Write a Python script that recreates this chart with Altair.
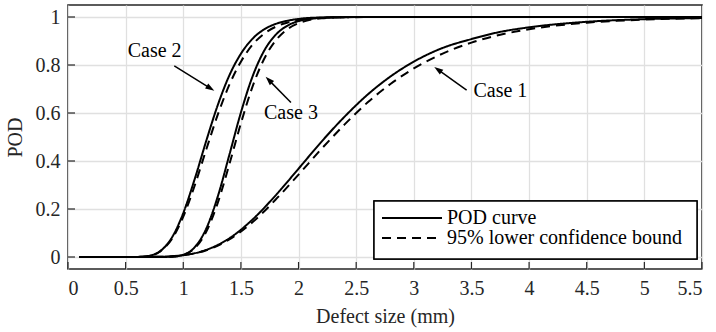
import altair as alt
import pandas as pd

# ---- data ----
CASE1_X = [0.1, 0.6, 0.8, 1.0, 1.2, 1.4, 1.6, 1.8, 2.0, 2.2, 2.4, 2.6, 2.8, 3.0, 3.25, 3.5, 3.75, 4.0, 4.5, 5.0, 5.5]
CASE1_POD = [0, 0, 0.001, 0.0074, 0.0297, 0.078, 0.1558, 0.256, 0.368, 0.481, 0.585, 0.677, 0.753, 0.814, 0.871, 0.908, 0.938, 0.957, 0.98, 0.991, 0.996]
CASE1_LCB = [0, 0, 0.001, 0.0073, 0.0283, 0.0731, 0.1448, 0.2383, 0.3435, 0.4509, 0.5526, 0.6445, 0.7218, 0.7856, 0.8475, 0.8933, 0.926, 0.949, 0.9763, 0.989, 0.995]

CASE2_X = [0.1, 0.5, 0.6, 0.7, 0.8, 0.9, 1.0, 1.1, 1.2, 1.3, 1.4, 1.5, 1.6, 1.7, 1.8, 1.9, 2.0, 2.2, 2.5, 3.0, 5.5]
CASE2_POD = [0, 0, 0.0004, 0.0046, 0.0246, 0.080, 0.183, 0.326, 0.485, 0.634, 0.757, 0.847, 0.909, 0.948, 0.971, 0.984, 0.992, 0.998, 0.9997, 1, 1]
CASE2_LCB = [0, 0, 0.0005, 0.0047, 0.0235, 0.0742, 0.168, 0.299, 0.449, 0.594, 0.718, 0.814, 0.884, 0.930, 0.959, 0.976, 0.987, 0.996, 0.9994, 1, 1]

CASE3_X = [0.1, 0.6, 0.8, 0.9, 1.0, 1.1, 1.2, 1.3, 1.4, 1.5, 1.6, 1.7, 1.8, 1.9, 2.0, 2.1, 2.2, 2.4, 2.6, 3.0, 5.5]
CASE3_POD = [0, 0, 0.0001, 0.0012, 0.0093, 0.041, 0.119, 0.253, 0.426, 0.602, 0.751, 0.858, 0.925, 0.963, 0.983, 0.9925, 0.997, 0.9995, 1, 1, 1]
CASE3_LCB = [0, 0, 0.0001, 0.0012, 0.0085, 0.0367, 0.1056, 0.2266, 0.387, 0.557, 0.709, 0.824, 0.901, 0.948, 0.974, 0.988, 0.9945, 0.999, 1, 1, 1]

SERIES_TYPES = ["POD curve", "95% lower confidence bound"]
X_TICKS = [0, 0.5, 1, 1.5, 2, 2.5, 3, 3.5, 4, 4.5, 5, 5.5]
Y_TICKS = [0, 0.2, 0.4, 0.6, 0.8, 1]

ANNOT_TEXT = ["Case 2", "Case 3", "Case 1"]
ANNOT_TEXT_X = [0.752, 1.934, 3.751]
ANNOT_TEXT_Y = [0.857, 0.599, 0.690]
ARROW_TAIL_X = [0.922, 1.934, 3.458]
ARROW_TAIL_Y = [0.796, 0.644, 0.6955]
ARROW_HEAD_X = [1.2325, 1.745, 3.2125]
ARROW_HEAD_Y = [0.7036, 0.736, 0.780]
ARROW_ANGLE = [122, 315.5, 305.7]

# ---- build tables ----
rows = []
for case, xs, pod, lcb in [("Case 1", CASE1_X, CASE1_POD, CASE1_LCB),
                           ("Case 2", CASE2_X, CASE2_POD, CASE2_LCB),
                           ("Case 3", CASE3_X, CASE3_POD, CASE3_LCB)]:
    for i, x in enumerate(xs):
        rows.append({"x": x, "pod": pod[i], "case": case, "type": SERIES_TYPES[0], "ord": i})
    for i, x in enumerate(xs):
        rows.append({"x": x, "pod": lcb[i], "case": case, "type": SERIES_TYPES[1], "ord": i})
df = pd.DataFrame(rows)

ann = pd.DataFrame({
    "label": ANNOT_TEXT, "tx": ANNOT_TEXT_X, "ty": ANNOT_TEXT_Y,
    "x": ARROW_TAIL_X, "pod": ARROW_TAIL_Y,
    "hx": ARROW_HEAD_X, "hy": ARROW_HEAD_Y, "ang": ARROW_ANGLE,
})
leg = pd.DataFrame({"type": SERIES_TYPES})

W, H = 634, 264
FONT = "Liberation Serif"
TXT = "#262626"
DASH = [9, 6]

xscale = alt.Scale(domain=[0, 5.5], nice=False, zero=False)
yscale = alt.Scale(domain=[-0.05, 1.05], nice=False, zero=False)
xaxis = alt.Axis(values=X_TICKS, format="~g", title="Defect size (mm)", grid=True,
                 tickSize=0, domain=False, labelPadding=9, titlePadding=8)
yaxis = alt.Axis(values=Y_TICKS, format="~g", title="POD", grid=True,
                 tickSize=0, domain=False, labelPadding=8, titlePadding=10)

lines = alt.Chart(df).mark_line(color="black", strokeWidth=2, interpolate="monotone").encode(
    x=alt.X("x:Q", scale=xscale, axis=xaxis),
    y=alt.Y("pod:Q", scale=yscale, axis=yaxis),
    detail="case:N",
    order="ord:Q",
    strokeDash=alt.StrokeDash(
        "type:N",
        scale=alt.Scale(domain=SERIES_TYPES, range=[[1, 0], DASH]),
        legend=None,
    ),
)

xt = alt.Chart(pd.DataFrame({"x": X_TICKS})).mark_rule(color=TXT, strokeWidth=1.2).encode(
    x=alt.X("x:Q", scale=xscale, axis=xaxis), y=alt.value(H), y2=alt.value(H - 7))
yt = alt.Chart(pd.DataFrame({"pod": Y_TICKS})).mark_rule(color=TXT, strokeWidth=1.2).encode(
    y=alt.Y("pod:Q", scale=yscale, axis=yaxis), x=alt.value(0), x2=alt.value(7))

shafts = alt.Chart(ann).mark_rule(color="black", strokeWidth=1.5).encode(
    x=alt.X("x:Q", scale=xscale, axis=xaxis), y=alt.Y("pod:Q", scale=yscale, axis=yaxis),
    x2="hx:Q", y2="hy:Q")
heads = alt.Chart(ann).mark_point(
    shape="M0,-1L0.6,0.8L-0.6,0.8Z", filled=True, color="black", opacity=1, size=100
).encode(
    x=alt.X("hx:Q", scale=xscale, axis=xaxis), y=alt.Y("hy:Q", scale=yscale, axis=yaxis),
    angle=alt.Angle("ang:Q", scale=None))
texts = alt.Chart(ann).mark_text(font=FONT, fontSize=20, color="black",
                                 align="center", baseline="middle").encode(
    x=alt.X("tx:Q", scale=xscale, axis=xaxis), y=alt.Y("ty:Q", scale=yscale, axis=yaxis),
    text="label:N")

# ---- legend drawn by hand (MATLAB style box) ----
LX0, LX1, LY0, LY1 = 306, 629, 196, 254
ROW_Y = [213, 233]
LEG_FS = 20
leg_box = alt.Chart(leg).mark_rect(fill="white", stroke="black", strokeWidth=1.5).encode(
    x=alt.value(LX0), x2=alt.value(LX1), y=alt.value(LY0), y2=alt.value(LY1))
leg_solid = alt.Chart(leg).transform_filter(alt.datum.type == SERIES_TYPES[0]).mark_rule(
    color="black", strokeWidth=2).encode(
    x=alt.value(LX0 + 8), x2=alt.value(LX0 + 68), y=alt.value(ROW_Y[0]))
leg_dash = alt.Chart(leg).transform_filter(alt.datum.type == SERIES_TYPES[1]).mark_rule(
    color="black", strokeWidth=2, strokeDash=DASH).encode(
    x=alt.value(LX0 + 8), x2=alt.value(LX0 + 68), y=alt.value(ROW_Y[1]))
leg_t1 = alt.Chart(leg).transform_filter(alt.datum.type == SERIES_TYPES[0]).mark_text(
    font=FONT, fontSize=LEG_FS, color="black", align="left", baseline="middle").encode(
    x=alt.value(LX0 + 73), y=alt.value(ROW_Y[0]), text="type:N")
leg_t2 = alt.Chart(leg).transform_filter(alt.datum.type == SERIES_TYPES[1]).mark_text(
    font=FONT, fontSize=LEG_FS, color="black", align="left", baseline="middle").encode(
    x=alt.value(LX0 + 73), y=alt.value(ROW_Y[1]), text="type:N")

chart = alt.layer(xt, yt, lines, shafts, heads, texts,
                  leg_box, leg_solid, leg_dash, leg_t1, leg_t2).properties(
    width=W, height=H,
    autosize=alt.AutoSizeParams(type="none"),
    padding={"left": 68, "top": 5, "right": 14, "bottom": 63},
).configure_view(
    stroke="#262626", strokeWidth=1.6
).configure_axis(
    labelFont=FONT, labelFontSize=20, labelColor=TXT,
    titleFont=FONT, titleFontSize=20, titleColor=TXT, titleFontWeight="normal",
    gridColor="#e0e0e0", gridWidth=1.3,
)

chart.save("out.html", embed_options={"renderer": "svg", "actions": False})
